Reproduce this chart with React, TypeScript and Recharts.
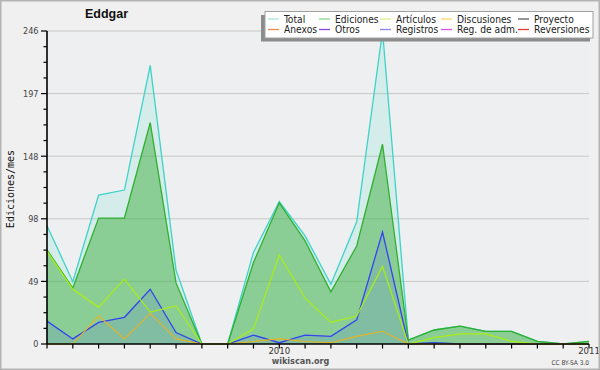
import React from "react";
import { ComposedChart, Area, Line, XAxis, YAxis, CartesianGrid, Label } from "recharts";

// months from 2009-04 to 2011-01
const months = [
  "2009-04", "2009-05", "2009-06", "2009-07", "2009-08", "2009-09", "2009-10", "2009-11", "2009-12",
  "2010-01", "2010-02", "2010-03", "2010-04", "2010-05", "2010-06", "2010-07", "2010-08", "2010-09",
  "2010-10", "2010-11", "2010-12", "2011-01",
];
const total = [93, 49, 117, 121, 219, 58, 0, 0, 72, 112, 85, 47, 96, 246, 3, 11, 14, 10, 10, 2, 0, 2];
const ediciones = [74, 44, 99, 99, 174, 48, 0, 0, 64, 111, 81, 41, 77, 157, 3, 11, 14, 10, 10, 2, 0, 2];
const articulos = [73, 43, 29, 51, 25, 30, 0, 0, 12, 70, 36, 17, 22, 61, 0, 5, 8, 8, 2, 0, 0, 0];
const registros = [18, 4, 17, 21, 43, 9, 0, 0, 7, 1, 7, 6, 19, 88, 0, 1, 0, 0, 0, 0, 0, 0];
const discusiones = [0, 0, 22, 4, 24, 4, 0, 0, 2, 4, 2, 1, 6, 10, 0, 0, 0, 0, 0, 0, 0, 0];

const yMax = 246;
const yMajorLabels = ["0", "49", "98", "148", "197", "246"];
const yMajorValues = yMajorLabels.map((_, k) => (yMax / 5) * k);
const yTicks = Array.from({ length: 21 }, (_, k) => (yMax / 20) * k);
const xTicks = months.map((_, i) => i);
const yearLabels: Record<string, string> = { "2010-01": "2010", "2011-01": "2011" };

const legendItems = [
  { name: "Total", color: "#a6e8df" },
  { name: "Ediciones", color: "#8ad58a" },
  { name: "Artículos", color: "#d6f184" },
  { name: "Discusiones", color: "#ffd66e" },
  { name: "Proyecto", color: "#5e5e5e" },
  { name: "Anexos", color: "#f08a4c" },
  { name: "Otros", color: "#8a48de" },
  { name: "Registros", color: "#8686f0" },
  { name: "Reg. de adm.", color: "#e050e6" },
  { name: "Reversiones", color: "#e63c3c" },
];
const legendCols = [268, 319, 380, 441, 518];

const data = months.map((m, i) => ({
  i,
  month: m,
  total: total[i],
  ediciones: ediciones[i],
  articulos: articulos[i],
  registros: registros[i],
  discusiones: discusiones[i],
}));

const font = "'DejaVu Sans Condensed', 'DejaVu Sans', sans-serif";

const YTick = (props: any) => {
  const { x, y, index } = props;
  const major = index % 4 === 0;
  return (
    <g>
      <line x1={x - (major ? 6 : 3.5)} x2={x} y1={y} y2={y} stroke="#000" strokeWidth={1.2} />
      {major && (
        <text x={x - 8.5} y={y + 3.3} textAnchor="end" fontSize={9} fontFamily={font} fill="#444">
          {yMajorLabels[index / 4]}
        </text>
      )}
    </g>
  );
};

const XTick = (props: any) => {
  const { x, y, payload } = props;
  const label = yearLabels[months[payload.value]] || "";
  if (!label) return null;
  return (
    <text x={x} y={y + 5.5} textAnchor="middle" fontSize={9.5} fontFamily={font} fill="#333">
      {label}
    </text>
  );
};

const Overlay = () => (
  <svg width={600} height={370} style={{ position: "absolute", left: 0, top: 0, pointerEvents: "none" }}>
    <rect x={0.75} y={0.75} width={598.5} height={368.5} fill="none" stroke="#b4b4b4" strokeWidth={1.5} />
    <text x={85} y={18.3} fontSize={12.5} fontWeight="bold" fontFamily="'Liberation Sans', Arial, sans-serif" fill="#111">
      Eddgar
    </text>
    <rect x={261} y={15} width={329} height={26.5} fill="#8c8c8c" />
    <rect x={265} y={11.5} width={328} height={26.5} fill="#fff" stroke="#a0a0a0" strokeWidth={1} />
    {legendItems.map((it, k) => {
      const col = k % 5;
      const row = Math.floor(k / 5);
      const lx = legendCols[col];
      const ly = row === 0 ? 19 : 29.5;
      return (
        <g key={it.name}>
          <line x1={lx} x2={lx + 11} y1={ly} y2={ly} stroke={it.color} strokeWidth={1.3} />
          <text x={lx + 16} y={ly + 3.6} fontSize={10.2} fontFamily={font} fill="#222">
            {it.name}
          </text>
        </g>
      );
    })}
    <text x={300.5} y={364} textAnchor="middle" fontSize={9} fontWeight="bold" fontFamily={font} fill="#555">
      wikiscan.org
    </text>
    <text x={589} y={364.5} textAnchor="end" fontSize={6.5} fontFamily={font} fill="#444">
      CC BY-SA 3.0
    </text>
  </svg>
);

export default function App() {
  return (
    <div style={{ position: "absolute", left: 0, top: 0, width: 600, height: 370, background: "#f0f0f0" }}>
      <ComposedChart width={600} height={370} data={data} margin={{ top: 31, right: 11, bottom: 0, left: 0 }}>
        <CartesianGrid fill="#eeeff1" vertical={false} stroke="#c8c8c8" horizontalValues={yMajorValues.slice(1)} />
        <XAxis
          dataKey="i"
          type="number"
          domain={[0, months.length - 1]}
          ticks={xTicks}
          interval={0}
          height={26}
          tickSize={4.5}
          tickMargin={0}
          tickLine={{ stroke: "#000", strokeWidth: 1.2 }}
          axisLine={{ stroke: "#000", strokeWidth: 1.6 }}
          tick={<XTick />}
        />
        <YAxis
          type="number"
          domain={[0, yMax]}
          ticks={yTicks}
          interval={0}
          width={47}
          tickSize={0}
          tickMargin={0}
          tickLine={false}
          axisLine={{ stroke: "#000", strokeWidth: 1.6 }}
          tick={<YTick />}
        >
          <Label
            content={() => (
              <text
                transform="translate(14,189) rotate(-90)"
                textAnchor="middle"
                fontSize={10}
                fontFamily="'DejaVu Sans Mono', monospace"
                fill="#111"
              >
                Ediciones/mes
              </text>
            )}
          />
        </YAxis>
        <Area type="linear" dataKey="total" stroke="#3ed3c8" strokeWidth={1.3} fill="#40e0c0" fillOpacity={0.15} dot={false} activeDot={false} isAnimationActive={false} />
        <Area type="linear" dataKey="ediciones" stroke="#30b030" strokeWidth={1.3} fill="#40b040" fillOpacity={0.5} dot={false} activeDot={false} isAnimationActive={false} />
        <Area type="linear" dataKey="registros" stroke="#3344f0" strokeWidth={1.3} fill="#4050ff" fillOpacity={0.13} dot={false} activeDot={false} isAnimationActive={false} />
        <Line type="linear" dataKey="articulos" stroke="#aaee14" strokeWidth={1.2} dot={false} activeDot={false} isAnimationActive={false} />
        <Line type="linear" dataKey="discusiones" stroke="#e6b422" strokeWidth={1.1} dot={false} activeDot={false} isAnimationActive={false} />
      </ComposedChart>
      <Overlay />
    </div>
  );
}
